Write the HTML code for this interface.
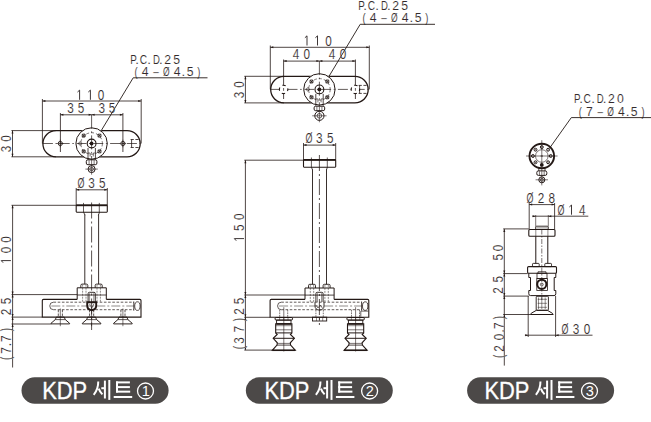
<!DOCTYPE html><html><head><meta charset="utf-8"><style>html,body{margin:0;padding:0;background:#fff;overflow:hidden}svg{display:block;font-family:"Liberation Sans",sans-serif}</style></head><body>
<svg width="651" height="422" viewBox="0 0 651 422">
<rect width="651" height="422" fill="#fff"/>
<text transform="translate(130.17,63.5) scale(0.74,1)" font-size="13.3" fill="#332b2b" stroke="#fff" stroke-width="0.12">P</text>
<text transform="translate(135.35,63.5) scale(1.0,1)" font-size="13.3" fill="#332b2b" stroke="#fff" stroke-width="0.12">.</text>
<text transform="translate(139.69,63.5) scale(0.76,1)" font-size="13.3" fill="#332b2b" stroke="#fff" stroke-width="0.12">C</text>
<text transform="translate(147.35,63.5) scale(1.0,1)" font-size="13.3" fill="#332b2b" stroke="#fff" stroke-width="0.12">.</text>
<text transform="translate(152.98,63.5) scale(0.72,1)" font-size="13.3" fill="#332b2b" stroke="#fff" stroke-width="0.12">D</text>
<text transform="translate(159.05,63.5) scale(1.0,1)" font-size="13.3" fill="#332b2b" stroke="#fff" stroke-width="0.12">.</text>
<text transform="translate(164.2,63.5) scale(0.92,1)" font-size="13.3" fill="#332b2b" stroke="#fff" stroke-width="0.12">2</text>
<text transform="translate(173.21,63.5) scale(0.92,1)" font-size="13.3" fill="#332b2b" stroke="#fff" stroke-width="0.12">5</text>
<text transform="translate(134.59,75.8) scale(0.7,1)" font-size="13.3" fill="#332b2b" stroke="#fff" stroke-width="0.12">(</text>
<text transform="translate(141.84,75.8) scale(0.92,1)" font-size="13.3" fill="#332b2b" stroke="#fff" stroke-width="0.12">4</text>
<text transform="translate(152.34,75.8) scale(1.7,1)" font-size="13.3" fill="#332b2b" stroke="#fff" stroke-width="0.12">-</text>
<text transform="translate(163.09,75.8) scale(0.64,1)" font-size="13.3" fill="#332b2b" stroke="#fff" stroke-width="0.12">Ø</text>
<text transform="translate(173.84,75.8) scale(0.92,1)" font-size="13.3" fill="#332b2b" stroke="#fff" stroke-width="0.12">4</text>
<text transform="translate(181.55,75.8) scale(1.0,1)" font-size="13.3" fill="#332b2b" stroke="#fff" stroke-width="0.12">.</text>
<text transform="translate(186.71,75.8) scale(0.92,1)" font-size="13.3" fill="#332b2b" stroke="#fff" stroke-width="0.12">5</text>
<text transform="translate(197.31,75.8) scale(0.7,1)" font-size="13.3" fill="#332b2b" stroke="#fff" stroke-width="0.12">)</text>
<line x1="133.2" y1="77.8" x2="207.5" y2="77.8" stroke="#231815" stroke-width="0.9"/>
<line x1="133.2" y1="77.8" x2="100.2" y2="132.3" stroke="#231815" stroke-width="0.9"/>
<path transform="translate(79.6,99.8)" d="M0,0 V-9.66 L-2.1,-7.76" fill="none" stroke="#332b2b" stroke-width="0.95"/>
<path transform="translate(90.4,99.8)" d="M0,0 V-9.66 L-2.1,-7.76" fill="none" stroke="#332b2b" stroke-width="0.95"/>
<text transform="translate(97.83,99.8) scale(0.84,1)" font-size="14.0" fill="#332b2b" stroke="#fff" stroke-width="0.12">0</text>
<line x1="42.4" y1="101" x2="141.2" y2="101" stroke="#231815" stroke-width="0.8"/>
<polygon points="42.4,101 45.4,100 45.4,102" fill="#231815"/>
<polygon points="141.2,101 138.2,100 138.2,102" fill="#231815"/>
<line x1="42.4" y1="99" x2="42.4" y2="143.5" stroke="#231815" stroke-width="0.8"/>
<line x1="141.2" y1="99" x2="141.2" y2="143.5" stroke="#231815" stroke-width="0.8"/>
<text transform="translate(67.26,112.9) scale(0.84,1)" font-size="14.0" fill="#332b2b" stroke="#fff" stroke-width="0.12">3</text>
<text transform="translate(77.74,112.9) scale(0.84,1)" font-size="14.0" fill="#332b2b" stroke="#fff" stroke-width="0.12">5</text>
<text transform="translate(98.46,112.9) scale(0.84,1)" font-size="14.0" fill="#332b2b" stroke="#fff" stroke-width="0.12">3</text>
<text transform="translate(108.84,112.9) scale(0.84,1)" font-size="14.0" fill="#332b2b" stroke="#fff" stroke-width="0.12">5</text>
<line x1="60.4" y1="114.8" x2="122.9" y2="114.8" stroke="#231815" stroke-width="0.8"/>
<polygon points="60.4,114.8 63.4,113.8 63.4,115.8" fill="#231815"/>
<polygon points="122.9,114.8 119.9,113.8 119.9,115.8" fill="#231815"/>
<polygon points="91.6,114.8 88.6,113.8 88.6,115.8" fill="#231815"/>
<polygon points="91.6,114.8 94.6,113.8 94.6,115.8" fill="#231815"/>
<line x1="60.4" y1="113" x2="60.4" y2="152" stroke="#231815" stroke-width="0.8"/>
<line x1="122.9" y1="113" x2="122.9" y2="152" stroke="#231815" stroke-width="0.8"/>
<line x1="12.5" y1="130.6" x2="12.5" y2="156.8" stroke="#231815" stroke-width="0.8"/>
<polygon points="12.5,130.6 11.5,133.6 13.5,133.6" fill="#231815"/>
<polygon points="12.5,156.8 11.5,153.8 13.5,153.8" fill="#231815"/>
<line x1="11.4" y1="130.6" x2="56" y2="130.6" stroke="#231815" stroke-width="0.8"/>
<line x1="11.4" y1="156.8" x2="56" y2="156.8" stroke="#231815" stroke-width="0.8"/>
<text transform="translate(11.0,152.14) rotate(-90) scale(0.84,1)" font-size="14.0" fill="#332b2b" stroke="#fff" stroke-width="0.12">3</text>
<text transform="translate(11.0,141.87) rotate(-90) scale(0.84,1)" font-size="14.0" fill="#332b2b" stroke="#fff" stroke-width="0.12">0</text>
<rect x="42.9" y="130.6" width="97.3" height="26.2" rx="13.1" fill="none" stroke="#231815" stroke-width="1.3"/>
<circle cx="60.3" cy="143.5" r="2.1" fill="none" stroke="#231815" stroke-width="0.9"/>
<line x1="57.1" y1="143.5" x2="63.5" y2="143.5" stroke="#231815" stroke-width="0.6"/>
<line x1="60.3" y1="139.7" x2="60.3" y2="147.3" stroke="#231815" stroke-width="0.6"/>
<circle cx="122.9" cy="143.5" r="2.1" fill="none" stroke="#231815" stroke-width="0.9"/>
<line x1="119.7" y1="143.5" x2="126.1" y2="143.5" stroke="#231815" stroke-width="0.6"/>
<line x1="122.9" y1="139.7" x2="122.9" y2="147.3" stroke="#231815" stroke-width="0.6"/>
<line x1="130.6" y1="139.5" x2="138.7" y2="139.5" stroke="#231815" stroke-width="0.8" stroke-dasharray="3.2,1.6"/>
<line x1="130.6" y1="147.5" x2="138.7" y2="147.5" stroke="#231815" stroke-width="0.8" stroke-dasharray="3.2,1.6"/>
<line x1="131.6" y1="139.5" x2="131.6" y2="147.5" stroke="#231815" stroke-width="0.8"/>
<circle cx="91.6" cy="143.5" r="15.7" fill="#fff" stroke="#231815" stroke-width="1.0"/>
<circle cx="91.6" cy="143.5" r="10.8" fill="none" stroke="#231815" stroke-width="0.6" stroke-dasharray="3,2"/>
<rect x="82.25" y="134.15" width="2.9" height="2.9" rx="0.5" fill="none" stroke="#231815" stroke-width="0.9"/>
<line x1="82.25" y1="134.15" x2="85.15" y2="137.05" stroke="#231815" stroke-width="0.7"/>
<line x1="82.25" y1="137.05" x2="85.15" y2="134.15" stroke="#231815" stroke-width="0.7"/>
<rect x="82.25" y="149.95" width="2.9" height="2.9" rx="0.5" fill="none" stroke="#231815" stroke-width="0.9"/>
<line x1="82.25" y1="149.95" x2="85.15" y2="152.85" stroke="#231815" stroke-width="0.7"/>
<line x1="82.25" y1="152.85" x2="85.15" y2="149.95" stroke="#231815" stroke-width="0.7"/>
<rect x="98.05" y="134.15" width="2.9" height="2.9" rx="0.5" fill="none" stroke="#231815" stroke-width="0.9"/>
<line x1="98.05" y1="134.15" x2="100.95" y2="137.05" stroke="#231815" stroke-width="0.7"/>
<line x1="98.05" y1="137.05" x2="100.95" y2="134.15" stroke="#231815" stroke-width="0.7"/>
<rect x="98.05" y="149.95" width="2.9" height="2.9" rx="0.5" fill="none" stroke="#231815" stroke-width="0.9"/>
<line x1="98.05" y1="149.95" x2="100.95" y2="152.85" stroke="#231815" stroke-width="0.7"/>
<line x1="98.05" y1="152.85" x2="100.95" y2="149.95" stroke="#231815" stroke-width="0.7"/>
<circle cx="91.6" cy="143.5" r="4.4" fill="#fff" stroke="#231815" stroke-width="1.1"/>
<circle cx="91.6" cy="143.5" r="1.9" fill="#231815" stroke="#231815" stroke-width="0"/>
<polygon points="78.1,143.5 80.1,141.7 82.1,143.5 80.1,145.3" fill="none" stroke="#231815" stroke-width="0.7"/>
<line x1="88" y1="148" x2="88" y2="159.8" stroke="#231815" stroke-width="0.8"/>
<line x1="95.4" y1="148" x2="95.4" y2="159.8" stroke="#231815" stroke-width="0.8"/>
<path d="M88,153 H90.1 V156.5 M95.4,153 H93.3 V156.5" fill="none" stroke="#231815" stroke-width="0.6"/>
<line x1="42.9" y1="143.5" x2="140.2" y2="143.5" stroke="#231815" stroke-width="0.7" stroke-dasharray="10,2.6,1.6,2.6"/>
<line x1="91.6" y1="114.8" x2="91.6" y2="160.2" stroke="#231815" stroke-width="0.7" stroke-dasharray="14,2.5,1.6,2.5"/>
<rect x="86.3" y="159.8" width="10.6" height="4.9" rx="1.6" fill="none" stroke="#231815" stroke-width="1.0"/>
<line x1="89.08" y1="160.2" x2="89.08" y2="164.3" stroke="#231815" stroke-width="0.6"/>
<line x1="91.6" y1="160.2" x2="91.6" y2="164.3" stroke="#231815" stroke-width="0.6"/>
<line x1="94.12" y1="160.2" x2="94.12" y2="164.3" stroke="#231815" stroke-width="0.6"/>
<circle cx="91.6" cy="169.1" r="3.5" fill="none" stroke="#231815" stroke-width="1.0"/>
<circle cx="91.6" cy="169.1" r="1.75" fill="none" stroke="#231815" stroke-width="0.7"/>
<line x1="85.4" y1="169.1" x2="97.8" y2="169.1" stroke="#231815" stroke-width="0.6"/>
<line x1="91.6" y1="164.76" x2="91.6" y2="174.68" stroke="#231815" stroke-width="0.6"/>
<text transform="translate(77.51,188.1) scale(0.64,1)" font-size="14.0" fill="#332b2b" stroke="#fff" stroke-width="0.12">Ø</text>
<text transform="translate(88.36,188.1) scale(0.84,1)" font-size="14.0" fill="#332b2b" stroke="#fff" stroke-width="0.12">3</text>
<text transform="translate(99.04,188.1) scale(0.84,1)" font-size="14.0" fill="#332b2b" stroke="#fff" stroke-width="0.12">5</text>
<line x1="76.2" y1="189.8" x2="107.3" y2="189.8" stroke="#231815" stroke-width="0.8"/>
<polygon points="76.2,189.8 79.2,188.8 79.2,190.8" fill="#231815"/>
<polygon points="107.3,189.8 104.3,188.8 104.3,190.8" fill="#231815"/>
<line x1="76.2" y1="188" x2="76.2" y2="205.3" stroke="#231815" stroke-width="0.8"/>
<line x1="107.3" y1="188" x2="107.3" y2="205.3" stroke="#231815" stroke-width="0.8"/>
<rect x="76.2" y="205.3" width="31.1" height="6.9" rx="0.6" fill="none" stroke="#231815" stroke-width="1.1"/>
<line x1="76.2" y1="205.3" x2="107.3" y2="205.3" stroke="#231815" stroke-width="1.8"/>
<line x1="83.5" y1="202.9" x2="83.5" y2="212.2" stroke="#231815" stroke-width="0.7"/>
<line x1="99.3" y1="202.9" x2="99.3" y2="212.2" stroke="#231815" stroke-width="0.7"/>
<path d="M83.6,212.2 L85,215.2 M99.6,212.2 L98.3,215.2" fill="none" stroke="#231815" stroke-width="0.8"/>
<line x1="84.8" y1="214.5" x2="84.8" y2="284.1" stroke="#231815" stroke-width="0.9"/>
<line x1="98.6" y1="214.5" x2="98.6" y2="284.1" stroke="#231815" stroke-width="0.9"/>
<path d="M80.8,287.8 V285.40000000000003 Q80.8,284.1 82.1,284.1 H86.5 Q87.8,284.1 87.8,285.40000000000003 V287.8" fill="none" stroke="#231815" stroke-width="0.9"/>
<line x1="82.6" y1="284.7" x2="82.6" y2="301.9" stroke="#231815" stroke-width="0.5" stroke-dasharray="2,1"/>
<line x1="86" y1="284.7" x2="86" y2="301.9" stroke="#231815" stroke-width="0.5" stroke-dasharray="2,1"/>
<path d="M95.2,287.8 V285.40000000000003 Q95.2,284.1 96.5,284.1 H100.9 Q102.2,284.1 102.2,285.40000000000003 V287.8" fill="none" stroke="#231815" stroke-width="0.9"/>
<line x1="97" y1="284.7" x2="97" y2="301.9" stroke="#231815" stroke-width="0.5" stroke-dasharray="2,1"/>
<line x1="100.4" y1="284.7" x2="100.4" y2="301.9" stroke="#231815" stroke-width="0.5" stroke-dasharray="2,1"/>
<path d="M77.2,299.4 V287.8 H106.3 V299.4" fill="none" stroke="#231815" stroke-width="1.0"/>
<line x1="77.2" y1="295" x2="106.3" y2="295" stroke="#231815" stroke-width="0.8"/>
<path d="M77.2,299.4 H43.5 Q42.3,299.4 42.3,300.59999999999997 V317.1 H141 V300.59999999999997 Q141,299.4 139.8,299.4 H106.3" fill="none" stroke="#231815" stroke-width="1.1"/>
<line x1="53.5" y1="302.2" x2="134" y2="302.2" stroke="#231815" stroke-width="0.7" stroke-dasharray="2.6,1.6"/>
<line x1="53.5" y1="309.7" x2="134" y2="309.7" stroke="#231815" stroke-width="0.7" stroke-dasharray="2.6,1.6"/>
<path d="M53.5,302.2 A3.75,3.75 0 0 0 53.5,309.7" fill="none" stroke="#231815" stroke-width="0.7"/>
<line x1="51.3" y1="306" x2="134" y2="306" stroke="#231815" stroke-width="0.5" stroke-dasharray="9,2,2,2"/>
<ellipse cx="137.4" cy="306.1" rx="2.7" ry="4.3" fill="none" stroke="#231815" stroke-width="0.8"/>
<line x1="133.8" y1="301.6" x2="133.8" y2="310.6" stroke="#231815" stroke-width="0.8"/>
<path d="M88.1,302 V293.6 Q88.1,292.3 89.4,292.3 H94 Q95.3,292.3 95.3,293.6 V302" fill="none" stroke="#231815" stroke-width="0.9"/>
<line x1="89.6" y1="293.2" x2="89.6" y2="302" stroke="#231815" stroke-width="0.5"/>
<line x1="93.8" y1="293.2" x2="93.8" y2="302" stroke="#231815" stroke-width="0.5"/>
<path d="M87.2,302.2 H96.2 V305.6 Q96.2,309.8 91.7,310.2 Q87.2,309.8 87.2,305.6 Z" fill="none" stroke="#231815" stroke-width="1.9"/>
<path d="M89.6,304 L91.7,308.2 L93.8,304" fill="none" stroke="#231815" stroke-width="0.6"/>
<line x1="91.6" y1="202.5" x2="91.6" y2="330" stroke="#231815" stroke-width="0.75" stroke-dasharray="16,3,2,3"/>
<line x1="58.3" y1="309.9" x2="58.3" y2="317.1" stroke="#231815" stroke-width="0.75" stroke-dasharray="2.4,1.2"/>
<line x1="62.4" y1="309.9" x2="62.4" y2="317.1" stroke="#231815" stroke-width="0.75" stroke-dasharray="2.4,1.2"/>
<polygon points="56.4,317.1 64.2,317.1 65.3,319.6 69.6,323.3 69.6,323.9 51,323.9 51,323.3 55.3,319.6" fill="none" stroke="#231815" stroke-width="0.95"/>
<line x1="55.3" y1="319.6" x2="65.3" y2="319.6" stroke="#231815" stroke-width="0.7"/>
<line x1="60.3" y1="308.5" x2="60.3" y2="326.2" stroke="#231815" stroke-width="0.6"/>
<line x1="89.6" y1="309.9" x2="89.6" y2="317.1" stroke="#231815" stroke-width="0.75" stroke-dasharray="2.4,1.2"/>
<line x1="93.7" y1="309.9" x2="93.7" y2="317.1" stroke="#231815" stroke-width="0.75" stroke-dasharray="2.4,1.2"/>
<polygon points="87.7,317.1 95.5,317.1 96.6,319.6 100.9,323.3 100.9,323.9 82.3,323.9 82.3,323.3 86.6,319.6" fill="none" stroke="#231815" stroke-width="0.95"/>
<line x1="86.6" y1="319.6" x2="96.6" y2="319.6" stroke="#231815" stroke-width="0.7"/>
<line x1="91.6" y1="308.5" x2="91.6" y2="326.2" stroke="#231815" stroke-width="0.6"/>
<line x1="120.9" y1="309.9" x2="120.9" y2="317.1" stroke="#231815" stroke-width="0.75" stroke-dasharray="2.4,1.2"/>
<line x1="125" y1="309.9" x2="125" y2="317.1" stroke="#231815" stroke-width="0.75" stroke-dasharray="2.4,1.2"/>
<polygon points="119,317.1 126.8,317.1 127.9,319.6 132.2,323.3 132.2,323.9 113.6,323.9 113.6,323.3 117.9,319.6" fill="none" stroke="#231815" stroke-width="0.95"/>
<line x1="117.9" y1="319.6" x2="127.9" y2="319.6" stroke="#231815" stroke-width="0.7"/>
<line x1="122.9" y1="308.5" x2="122.9" y2="326.2" stroke="#231815" stroke-width="0.6"/>
<line x1="12.6" y1="205.3" x2="12.6" y2="367.5" stroke="#231815" stroke-width="0.8"/>
<polygon points="12.6,205.3 11.6,208.3 13.6,208.3" fill="#231815"/>
<line x1="11.5" y1="205.3" x2="76.2" y2="205.3" stroke="#231815" stroke-width="0.8"/>
<line x1="11.5" y1="294.6" x2="77.2" y2="294.6" stroke="#231815" stroke-width="0.8"/>
<polygon points="12.6,294.6 11.6,291.6 13.6,291.6" fill="#231815"/>
<polygon points="12.6,294.6 11.6,297.6 13.6,297.6" fill="#231815"/>
<line x1="11.5" y1="317.1" x2="42.3" y2="317.1" stroke="#231815" stroke-width="0.8"/>
<polygon points="12.6,317.1 11.6,314.1 13.6,314.1" fill="#231815"/>
<polygon points="12.6,317.1 11.6,320.1 13.6,320.1" fill="#231815"/>
<line x1="11.5" y1="324" x2="51.1" y2="324" stroke="#231815" stroke-width="0.8"/>
<polygon points="12.6,324 11.6,327 13.6,327" fill="#231815"/>
<path transform="translate(10.9,260.6) rotate(-90)" d="M0,0 V-9.66 L-2.1,-7.76" fill="none" stroke="#332b2b" stroke-width="0.95"/>
<text transform="translate(10.9,253.27) rotate(-90) scale(0.84,1)" font-size="14.0" fill="#332b2b" stroke="#fff" stroke-width="0.12">0</text>
<text transform="translate(10.9,242.67) rotate(-90) scale(0.84,1)" font-size="14.0" fill="#332b2b" stroke="#fff" stroke-width="0.12">0</text>
<text transform="translate(11.0,315.17) rotate(-90) scale(0.84,1)" font-size="14.0" fill="#332b2b" stroke="#fff" stroke-width="0.12">2</text>
<text transform="translate(11.0,304.36) rotate(-90) scale(0.84,1)" font-size="14.0" fill="#332b2b" stroke="#fff" stroke-width="0.12">5</text>
<text transform="translate(11.0,360.11) rotate(-90) scale(0.7,1)" font-size="14.0" fill="#332b2b" stroke="#fff" stroke-width="0.12">(</text>
<text transform="translate(11.0,353.68) rotate(-90) scale(0.84,1)" font-size="14.0" fill="#332b2b" stroke="#fff" stroke-width="0.12">7</text>
<text transform="translate(11.0,346.44) rotate(-90) scale(1.0,1)" font-size="14.0" fill="#332b2b" stroke="#fff" stroke-width="0.12">.</text>
<text transform="translate(11.0,341.98) rotate(-90) scale(0.84,1)" font-size="14.0" fill="#332b2b" stroke="#fff" stroke-width="0.12">7</text>
<text transform="translate(11.0,331.36) rotate(-90) scale(0.7,1)" font-size="14.0" fill="#332b2b" stroke="#fff" stroke-width="0.12">)</text>
<text transform="translate(358.17,9.7) scale(0.74,1)" font-size="13.3" fill="#332b2b" stroke="#fff" stroke-width="0.12">P</text>
<text transform="translate(363.35,9.7) scale(1.0,1)" font-size="13.3" fill="#332b2b" stroke="#fff" stroke-width="0.12">.</text>
<text transform="translate(367.69,9.7) scale(0.76,1)" font-size="13.3" fill="#332b2b" stroke="#fff" stroke-width="0.12">C</text>
<text transform="translate(375.35,9.7) scale(1.0,1)" font-size="13.3" fill="#332b2b" stroke="#fff" stroke-width="0.12">.</text>
<text transform="translate(380.98,9.7) scale(0.72,1)" font-size="13.3" fill="#332b2b" stroke="#fff" stroke-width="0.12">D</text>
<text transform="translate(387.05,9.7) scale(1.0,1)" font-size="13.3" fill="#332b2b" stroke="#fff" stroke-width="0.12">.</text>
<text transform="translate(392.2,9.7) scale(0.92,1)" font-size="13.3" fill="#332b2b" stroke="#fff" stroke-width="0.12">2</text>
<text transform="translate(401.21,9.7) scale(0.92,1)" font-size="13.3" fill="#332b2b" stroke="#fff" stroke-width="0.12">5</text>
<text transform="translate(362.59,21.9) scale(0.7,1)" font-size="13.3" fill="#332b2b" stroke="#fff" stroke-width="0.12">(</text>
<text transform="translate(369.84,21.9) scale(0.92,1)" font-size="13.3" fill="#332b2b" stroke="#fff" stroke-width="0.12">4</text>
<text transform="translate(380.34,21.9) scale(1.7,1)" font-size="13.3" fill="#332b2b" stroke="#fff" stroke-width="0.12">-</text>
<text transform="translate(391.09,21.9) scale(0.64,1)" font-size="13.3" fill="#332b2b" stroke="#fff" stroke-width="0.12">Ø</text>
<text transform="translate(401.84,21.9) scale(0.92,1)" font-size="13.3" fill="#332b2b" stroke="#fff" stroke-width="0.12">4</text>
<text transform="translate(409.55,21.9) scale(1.0,1)" font-size="13.3" fill="#332b2b" stroke="#fff" stroke-width="0.12">.</text>
<text transform="translate(414.71,21.9) scale(0.92,1)" font-size="13.3" fill="#332b2b" stroke="#fff" stroke-width="0.12">5</text>
<text transform="translate(425.31,21.9) scale(0.7,1)" font-size="13.3" fill="#332b2b" stroke="#fff" stroke-width="0.12">)</text>
<line x1="360.2" y1="24.3" x2="435" y2="24.3" stroke="#231815" stroke-width="0.9"/>
<line x1="360.2" y1="24.3" x2="327.5" y2="78.8" stroke="#231815" stroke-width="0.9"/>
<path transform="translate(307,45.5)" d="M0,0 V-9.66 L-2.1,-7.76" fill="none" stroke="#332b2b" stroke-width="0.95"/>
<path transform="translate(317.5,45.5)" d="M0,0 V-9.66 L-2.1,-7.76" fill="none" stroke="#332b2b" stroke-width="0.95"/>
<text transform="translate(325.23,45.5) scale(0.84,1)" font-size="14.0" fill="#332b2b" stroke="#fff" stroke-width="0.12">0</text>
<line x1="270.3" y1="47.3" x2="369.3" y2="47.3" stroke="#231815" stroke-width="0.8"/>
<polygon points="270.3,47.3 273.3,46.3 273.3,48.3" fill="#231815"/>
<polygon points="369.3,47.3 366.3,46.3 366.3,48.3" fill="#231815"/>
<line x1="270.3" y1="45.5" x2="270.3" y2="89.4" stroke="#231815" stroke-width="0.8"/>
<line x1="369.3" y1="45.5" x2="369.3" y2="89.4" stroke="#231815" stroke-width="0.8"/>
<text transform="translate(292.77,59.0) scale(0.84,1)" font-size="14.0" fill="#332b2b" stroke="#fff" stroke-width="0.12">4</text>
<text transform="translate(303.53,59.0) scale(0.84,1)" font-size="14.0" fill="#332b2b" stroke="#fff" stroke-width="0.12">0</text>
<text transform="translate(328.67,59.0) scale(0.84,1)" font-size="14.0" fill="#332b2b" stroke="#fff" stroke-width="0.12">4</text>
<text transform="translate(339.73,59.0) scale(0.84,1)" font-size="14.0" fill="#332b2b" stroke="#fff" stroke-width="0.12">0</text>
<line x1="283.6" y1="61.1" x2="355.4" y2="61.1" stroke="#231815" stroke-width="0.8"/>
<polygon points="283.6,61.1 286.6,60.1 286.6,62.1" fill="#231815"/>
<polygon points="355.4,61.1 352.4,60.1 352.4,62.1" fill="#231815"/>
<polygon points="319.4,61.1 316.4,60.1 316.4,62.1" fill="#231815"/>
<polygon points="319.4,61.1 322.4,60.1 322.4,62.1" fill="#231815"/>
<line x1="283.6" y1="59.5" x2="283.6" y2="99" stroke="#231815" stroke-width="0.8"/>
<line x1="355.4" y1="59.5" x2="355.4" y2="99" stroke="#231815" stroke-width="0.8"/>
<line x1="245.4" y1="76.3" x2="245.4" y2="102.9" stroke="#231815" stroke-width="0.8"/>
<polygon points="245.4,76.3 244.4,79.3 246.4,79.3" fill="#231815"/>
<polygon points="245.4,102.9 244.4,99.9 246.4,99.9" fill="#231815"/>
<line x1="244.3" y1="76.3" x2="284" y2="76.3" stroke="#231815" stroke-width="0.8"/>
<line x1="244.3" y1="102.9" x2="284" y2="102.9" stroke="#231815" stroke-width="0.8"/>
<text transform="translate(243.7,98.24) rotate(-90) scale(0.84,1)" font-size="14.0" fill="#332b2b" stroke="#fff" stroke-width="0.12">3</text>
<text transform="translate(243.7,87.67) rotate(-90) scale(0.84,1)" font-size="14.0" fill="#332b2b" stroke="#fff" stroke-width="0.12">0</text>
<rect x="270.7" y="76.3" width="97.5" height="26.6" rx="13.3" fill="none" stroke="#231815" stroke-width="1.3"/>
<line x1="358.6" y1="85.4" x2="366.7" y2="85.4" stroke="#231815" stroke-width="0.8" stroke-dasharray="3.2,1.6"/>
<line x1="358.6" y1="93.4" x2="366.7" y2="93.4" stroke="#231815" stroke-width="0.8" stroke-dasharray="3.2,1.6"/>
<line x1="359.6" y1="85.4" x2="359.6" y2="93.4" stroke="#231815" stroke-width="0.8"/>
<circle cx="319.4" cy="89.4" r="15.7" fill="#fff" stroke="#231815" stroke-width="1.0"/>
<circle cx="319.4" cy="89.4" r="10.8" fill="none" stroke="#231815" stroke-width="0.6" stroke-dasharray="3,2"/>
<rect x="310.05" y="80.05" width="2.9" height="2.9" rx="0.5" fill="none" stroke="#231815" stroke-width="0.9"/>
<line x1="310.05" y1="80.05" x2="312.95" y2="82.95" stroke="#231815" stroke-width="0.7"/>
<line x1="310.05" y1="82.95" x2="312.95" y2="80.05" stroke="#231815" stroke-width="0.7"/>
<rect x="310.05" y="95.85" width="2.9" height="2.9" rx="0.5" fill="none" stroke="#231815" stroke-width="0.9"/>
<line x1="310.05" y1="95.85" x2="312.95" y2="98.75" stroke="#231815" stroke-width="0.7"/>
<line x1="310.05" y1="98.75" x2="312.95" y2="95.85" stroke="#231815" stroke-width="0.7"/>
<rect x="325.85" y="80.05" width="2.9" height="2.9" rx="0.5" fill="none" stroke="#231815" stroke-width="0.9"/>
<line x1="325.85" y1="80.05" x2="328.75" y2="82.95" stroke="#231815" stroke-width="0.7"/>
<line x1="325.85" y1="82.95" x2="328.75" y2="80.05" stroke="#231815" stroke-width="0.7"/>
<rect x="325.85" y="95.85" width="2.9" height="2.9" rx="0.5" fill="none" stroke="#231815" stroke-width="0.9"/>
<line x1="325.85" y1="95.85" x2="328.75" y2="98.75" stroke="#231815" stroke-width="0.7"/>
<line x1="325.85" y1="98.75" x2="328.75" y2="95.85" stroke="#231815" stroke-width="0.7"/>
<circle cx="319.4" cy="89.4" r="4.4" fill="#fff" stroke="#231815" stroke-width="1.1"/>
<circle cx="319.4" cy="89.4" r="1.9" fill="#231815" stroke="#231815" stroke-width="0"/>
<polygon points="305.9,89.4 307.9,87.6 309.9,89.4 307.9,91.2" fill="none" stroke="#231815" stroke-width="0.7"/>
<line x1="315.8" y1="93.9" x2="315.8" y2="105.7" stroke="#231815" stroke-width="0.8"/>
<line x1="323.2" y1="93.9" x2="323.2" y2="105.7" stroke="#231815" stroke-width="0.8"/>
<path d="M315.8,98.9 H317.9 V102.4 M323.2,98.9 H321.1 V102.4" fill="none" stroke="#231815" stroke-width="0.6"/>
<line x1="270.7" y1="89.4" x2="368.2" y2="89.4" stroke="#231815" stroke-width="0.7" stroke-dasharray="10,2.6,1.6,2.6"/>
<circle cx="283.6" cy="89.4" r="4.2" fill="#fff" stroke="#231815" stroke-width="1.1" stroke-dasharray="3.4,3.2" stroke-dashoffset="1.7"/>
<line x1="283.6" y1="88" x2="283.6" y2="90.8" stroke="#231815" stroke-width="0.7"/>
<circle cx="355.4" cy="89.4" r="4.2" fill="#fff" stroke="#231815" stroke-width="1.1" stroke-dasharray="3.4,3.2" stroke-dashoffset="1.7"/>
<line x1="355.4" y1="88" x2="355.4" y2="90.8" stroke="#231815" stroke-width="0.7"/>
<line x1="319.4" y1="61.1" x2="319.4" y2="106.1" stroke="#231815" stroke-width="0.7" stroke-dasharray="14,2.5,1.6,2.5"/>
<rect x="314.1" y="106.2" width="10.6" height="4.5" rx="1.6" fill="none" stroke="#231815" stroke-width="1.0"/>
<line x1="316.88" y1="106.6" x2="316.88" y2="110.3" stroke="#231815" stroke-width="0.6"/>
<line x1="319.4" y1="106.6" x2="319.4" y2="110.3" stroke="#231815" stroke-width="0.6"/>
<line x1="321.92" y1="106.6" x2="321.92" y2="110.3" stroke="#231815" stroke-width="0.6"/>
<circle cx="319.4" cy="115.8" r="4.6" fill="none" stroke="#231815" stroke-width="1.0"/>
<circle cx="319.4" cy="115.8" r="2.3" fill="none" stroke="#231815" stroke-width="0.7"/>
<line x1="312.2" y1="115.8" x2="326.6" y2="115.8" stroke="#231815" stroke-width="0.6"/>
<line x1="319.4" y1="110.76" x2="319.4" y2="122.28" stroke="#231815" stroke-width="0.6"/>
<text transform="translate(305.51,143.2) scale(0.64,1)" font-size="14.0" fill="#332b2b" stroke="#fff" stroke-width="0.12">Ø</text>
<text transform="translate(316.06,143.2) scale(0.84,1)" font-size="14.0" fill="#332b2b" stroke="#fff" stroke-width="0.12">3</text>
<text transform="translate(326.94,143.2) scale(0.84,1)" font-size="14.0" fill="#332b2b" stroke="#fff" stroke-width="0.12">5</text>
<line x1="303.5" y1="145.1" x2="335.7" y2="145.1" stroke="#231815" stroke-width="0.8"/>
<polygon points="303.5,145.1 306.5,144.1 306.5,146.1" fill="#231815"/>
<polygon points="335.7,145.1 332.7,144.1 332.7,146.1" fill="#231815"/>
<line x1="303.5" y1="143" x2="303.5" y2="159.9" stroke="#231815" stroke-width="0.8"/>
<line x1="335.7" y1="143" x2="335.7" y2="159.9" stroke="#231815" stroke-width="0.8"/>
<rect x="303.5" y="159.9" width="32.2" height="7.3" rx="0.6" fill="none" stroke="#231815" stroke-width="1.1"/>
<line x1="303.5" y1="159.9" x2="335.7" y2="159.9" stroke="#231815" stroke-width="1.8"/>
<line x1="311.4" y1="157.5" x2="311.4" y2="167.2" stroke="#231815" stroke-width="0.7"/>
<line x1="327.3" y1="157.5" x2="327.3" y2="167.2" stroke="#231815" stroke-width="0.7"/>
<path d="M311.4,167.2 L312.6,170 M327.4,167.2 L326.4,170" fill="none" stroke="#231815" stroke-width="0.8"/>
<line x1="312.5" y1="169.5" x2="312.5" y2="284.3" stroke="#231815" stroke-width="0.9"/>
<line x1="326.5" y1="169.5" x2="326.5" y2="284.3" stroke="#231815" stroke-width="0.9"/>
<path d="M308.5,288.0 V285.6 Q308.5,284.3 309.8,284.3 H314.2 Q315.5,284.3 315.5,285.6 V288.0" fill="none" stroke="#231815" stroke-width="0.9"/>
<line x1="310.3" y1="284.9" x2="310.3" y2="301.9" stroke="#231815" stroke-width="0.5" stroke-dasharray="2,1"/>
<line x1="313.7" y1="284.9" x2="313.7" y2="301.9" stroke="#231815" stroke-width="0.5" stroke-dasharray="2,1"/>
<path d="M323.1,288.0 V285.6 Q323.1,284.3 324.4,284.3 H328.8 Q330.1,284.3 330.1,285.6 V288.0" fill="none" stroke="#231815" stroke-width="0.9"/>
<line x1="324.9" y1="284.9" x2="324.9" y2="301.9" stroke="#231815" stroke-width="0.5" stroke-dasharray="2,1"/>
<line x1="328.3" y1="284.9" x2="328.3" y2="301.9" stroke="#231815" stroke-width="0.5" stroke-dasharray="2,1"/>
<path d="M305,299.4 V288.0 H334.1 V299.4" fill="none" stroke="#231815" stroke-width="1.0"/>
<line x1="305" y1="295.1" x2="334.1" y2="295.1" stroke="#231815" stroke-width="0.8"/>
<path d="M305,299.4 H271.3 Q270.1,299.4 270.1,300.59999999999997 V317.2 H368.8 V300.59999999999997 Q368.8,299.4 367.6,299.4 H334.1" fill="none" stroke="#231815" stroke-width="1.1"/>
<line x1="281.3" y1="302.2" x2="361.8" y2="302.2" stroke="#231815" stroke-width="0.7" stroke-dasharray="2.6,1.6"/>
<line x1="281.3" y1="309.7" x2="361.8" y2="309.7" stroke="#231815" stroke-width="0.7" stroke-dasharray="2.6,1.6"/>
<path d="M281.3,302.2 A3.75,3.75 0 0 0 281.3,309.7" fill="none" stroke="#231815" stroke-width="0.7"/>
<line x1="279.1" y1="306" x2="361.8" y2="306" stroke="#231815" stroke-width="0.5" stroke-dasharray="9,2,2,2"/>
<ellipse cx="365.2" cy="306.1" rx="2.7" ry="4.3" fill="none" stroke="#231815" stroke-width="0.8"/>
<line x1="361.6" y1="301.6" x2="361.6" y2="310.6" stroke="#231815" stroke-width="0.8"/>
<path d="M315.9,302 V293.6 Q315.9,292.3 317.2,292.3 H321.8 Q323.1,292.3 323.1,293.6 V302" fill="none" stroke="#231815" stroke-width="0.9"/>
<line x1="317.4" y1="293.2" x2="317.4" y2="302" stroke="#231815" stroke-width="0.5"/>
<line x1="321.6" y1="293.2" x2="321.6" y2="302" stroke="#231815" stroke-width="0.5"/>
<path d="M315,302.2 V306 Q315,309.6 319.5,310.2 Q324,309.6 324,306 V302.2" fill="none" stroke="#231815" stroke-width="0.9"/>
<path d="M315.8,305 L318,308 L320.2,305 L322.4,308" fill="none" stroke="#231815" stroke-width="0.6"/>
<line x1="315.9" y1="310" x2="315.9" y2="317.2" stroke="#231815" stroke-width="0.6" stroke-dasharray="1.6,1"/>
<line x1="323.3" y1="310" x2="323.3" y2="317.2" stroke="#231815" stroke-width="0.6" stroke-dasharray="1.6,1"/>
<rect x="312.5" y="317.2" width="14.2" height="3.8" rx="0" fill="none" stroke="#231815" stroke-width="0.9"/>
<path d="M360.8,316.7 V311.1 H368.2" fill="none" stroke="#231815" stroke-width="0.7"/>
<line x1="316.5" y1="317.2" x2="316.5" y2="321" stroke="#231815" stroke-width="0.5"/>
<line x1="319.5" y1="317.2" x2="319.5" y2="321" stroke="#231815" stroke-width="0.5"/>
<line x1="322.7" y1="317.2" x2="322.7" y2="321" stroke="#231815" stroke-width="0.5"/>
<line x1="319.4" y1="155" x2="319.4" y2="325" stroke="#231815" stroke-width="0.75" stroke-dasharray="16,3,2,3"/>
<line x1="279.7" y1="309.8" x2="279.7" y2="317.2" stroke="#231815" stroke-width="0.6" stroke-dasharray="1.8,0.8"/>
<line x1="287.7" y1="309.8" x2="287.7" y2="317.2" stroke="#231815" stroke-width="0.6" stroke-dasharray="1.8,0.8"/>
<rect x="275" y="317.5" width="17.6" height="2.6" rx="1.3" fill="none" stroke="#231815" stroke-width="1.0"/>
<line x1="279.6" y1="317.6" x2="279.6" y2="320" stroke="#231815" stroke-width="0.5"/>
<line x1="283.8" y1="317.6" x2="283.8" y2="320" stroke="#231815" stroke-width="0.5"/>
<line x1="288" y1="317.6" x2="288" y2="320" stroke="#231815" stroke-width="0.5"/>
<rect x="276.6" y="320.1" width="14.4" height="3.8" rx="0" fill="none" stroke="#231815" stroke-width="0.9"/>
<line x1="276.6" y1="323.9" x2="291" y2="323.9" stroke="#231815" stroke-width="1.2"/>
<polygon points="275.7,323.9 275.7,332.9 277.2,334.4 273.2,338.3 277.3,342.8 277,345.1 272.3,350.3 295.3,350.3 290.6,345.1 290.3,342.8 294.4,338.3 290.4,334.4 291.9,332.9 291.9,323.9" fill="none" stroke="#231815" stroke-width="1.1"/>
<line x1="272.3" y1="350.3" x2="295.3" y2="350.3" stroke="#231815" stroke-width="1.5"/>
<line x1="275.7" y1="325.7" x2="291.9" y2="325.7" stroke="#231815" stroke-width="0.5"/>
<line x1="275.7" y1="329.8" x2="291.9" y2="329.8" stroke="#231815" stroke-width="0.6"/>
<line x1="275.7" y1="332.9" x2="291.9" y2="332.9" stroke="#231815" stroke-width="1.0"/>
<line x1="273.2" y1="338.3" x2="294.4" y2="338.3" stroke="#231815" stroke-width="1.0"/>
<line x1="277.2" y1="343.4" x2="290.4" y2="343.4" stroke="#231815" stroke-width="0.6"/>
<line x1="277" y1="345.1" x2="290.6" y2="345.1" stroke="#231815" stroke-width="0.8"/>
<line x1="283.8" y1="307.2" x2="283.8" y2="351.5" stroke="#231815" stroke-width="0.6"/>
<line x1="351.5" y1="309.8" x2="351.5" y2="317.2" stroke="#231815" stroke-width="0.6" stroke-dasharray="1.8,0.8"/>
<line x1="359.5" y1="309.8" x2="359.5" y2="317.2" stroke="#231815" stroke-width="0.6" stroke-dasharray="1.8,0.8"/>
<rect x="346.8" y="317.5" width="17.6" height="2.6" rx="1.3" fill="none" stroke="#231815" stroke-width="1.0"/>
<line x1="351.4" y1="317.6" x2="351.4" y2="320" stroke="#231815" stroke-width="0.5"/>
<line x1="355.6" y1="317.6" x2="355.6" y2="320" stroke="#231815" stroke-width="0.5"/>
<line x1="359.8" y1="317.6" x2="359.8" y2="320" stroke="#231815" stroke-width="0.5"/>
<rect x="348.4" y="320.1" width="14.4" height="3.8" rx="0" fill="none" stroke="#231815" stroke-width="0.9"/>
<line x1="348.4" y1="323.9" x2="362.8" y2="323.9" stroke="#231815" stroke-width="1.2"/>
<polygon points="347.5,323.9 347.5,332.9 349,334.4 345,338.3 349.1,342.8 348.8,345.1 344.1,350.3 367.1,350.3 362.4,345.1 362.1,342.8 366.2,338.3 362.2,334.4 363.7,332.9 363.7,323.9" fill="none" stroke="#231815" stroke-width="1.1"/>
<line x1="344.1" y1="350.3" x2="367.1" y2="350.3" stroke="#231815" stroke-width="1.5"/>
<line x1="347.5" y1="325.7" x2="363.7" y2="325.7" stroke="#231815" stroke-width="0.5"/>
<line x1="347.5" y1="329.8" x2="363.7" y2="329.8" stroke="#231815" stroke-width="0.6"/>
<line x1="347.5" y1="332.9" x2="363.7" y2="332.9" stroke="#231815" stroke-width="1.0"/>
<line x1="345" y1="338.3" x2="366.2" y2="338.3" stroke="#231815" stroke-width="1.0"/>
<line x1="349" y1="343.4" x2="362.2" y2="343.4" stroke="#231815" stroke-width="0.6"/>
<line x1="348.8" y1="345.1" x2="362.4" y2="345.1" stroke="#231815" stroke-width="0.8"/>
<line x1="355.6" y1="307.2" x2="355.6" y2="351.5" stroke="#231815" stroke-width="0.6"/>
<line x1="245.4" y1="160.2" x2="245.4" y2="350.1" stroke="#231815" stroke-width="0.8"/>
<polygon points="245.4,160.2 244.4,163.2 246.4,163.2" fill="#231815"/>
<line x1="244.3" y1="160.2" x2="303.5" y2="160.2" stroke="#231815" stroke-width="0.8"/>
<line x1="244.3" y1="295" x2="305.1" y2="295" stroke="#231815" stroke-width="0.8"/>
<polygon points="245.4,295 244.4,292 246.4,292" fill="#231815"/>
<polygon points="245.4,295 244.4,298 246.4,298" fill="#231815"/>
<line x1="244.3" y1="317.3" x2="270.1" y2="317.3" stroke="#231815" stroke-width="0.8"/>
<polygon points="245.4,317.3 244.4,314.3 246.4,314.3" fill="#231815"/>
<polygon points="245.4,317.3 244.4,320.3 246.4,320.3" fill="#231815"/>
<line x1="244.3" y1="350.1" x2="272.5" y2="350.1" stroke="#231815" stroke-width="0.8"/>
<polygon points="245.4,350.1 244.4,347.1 246.4,347.1" fill="#231815"/>
<path transform="translate(244.0,238.6) rotate(-90)" d="M0,0 V-9.66 L-2.1,-7.76" fill="none" stroke="#332b2b" stroke-width="0.95"/>
<text transform="translate(244.0,230.96) rotate(-90) scale(0.84,1)" font-size="14.0" fill="#332b2b" stroke="#fff" stroke-width="0.12">5</text>
<text transform="translate(244.0,219.97) rotate(-90) scale(0.84,1)" font-size="14.0" fill="#332b2b" stroke="#fff" stroke-width="0.12">0</text>
<text transform="translate(244.0,314.67) rotate(-90) scale(0.84,1)" font-size="14.0" fill="#332b2b" stroke="#fff" stroke-width="0.12">2</text>
<text transform="translate(244.0,304.26) rotate(-90) scale(0.84,1)" font-size="14.0" fill="#332b2b" stroke="#fff" stroke-width="0.12">5</text>
<text transform="translate(244.0,349.21) rotate(-90) scale(0.7,1)" font-size="14.0" fill="#332b2b" stroke="#fff" stroke-width="0.12">(</text>
<text transform="translate(244.0,343.74) rotate(-90) scale(0.84,1)" font-size="14.0" fill="#332b2b" stroke="#fff" stroke-width="0.12">3</text>
<text transform="translate(244.0,332.38) rotate(-90) scale(0.84,1)" font-size="14.0" fill="#332b2b" stroke="#fff" stroke-width="0.12">7</text>
<text transform="translate(244.0,321.16) rotate(-90) scale(0.7,1)" font-size="14.0" fill="#332b2b" stroke="#fff" stroke-width="0.12">)</text>
<text transform="translate(573.97,103.3) scale(0.74,1)" font-size="13.3" fill="#332b2b" stroke="#fff" stroke-width="0.12">P</text>
<text transform="translate(579.15,103.3) scale(1.0,1)" font-size="13.3" fill="#332b2b" stroke="#fff" stroke-width="0.12">.</text>
<text transform="translate(583.49,103.3) scale(0.76,1)" font-size="13.3" fill="#332b2b" stroke="#fff" stroke-width="0.12">C</text>
<text transform="translate(591.15,103.3) scale(1.0,1)" font-size="13.3" fill="#332b2b" stroke="#fff" stroke-width="0.12">.</text>
<text transform="translate(596.78,103.3) scale(0.72,1)" font-size="13.3" fill="#332b2b" stroke="#fff" stroke-width="0.12">D</text>
<text transform="translate(602.85,103.3) scale(1.0,1)" font-size="13.3" fill="#332b2b" stroke="#fff" stroke-width="0.12">.</text>
<text transform="translate(608,103.3) scale(0.92,1)" font-size="13.3" fill="#332b2b" stroke="#fff" stroke-width="0.12">2</text>
<text transform="translate(617,103.3) scale(0.92,1)" font-size="13.3" fill="#332b2b" stroke="#fff" stroke-width="0.12">0</text>
<text transform="translate(578.69,115.8) scale(0.7,1)" font-size="13.3" fill="#332b2b" stroke="#fff" stroke-width="0.12">(</text>
<text transform="translate(585.89,115.8) scale(0.92,1)" font-size="13.3" fill="#332b2b" stroke="#fff" stroke-width="0.12">7</text>
<text transform="translate(596.44,115.8) scale(1.7,1)" font-size="13.3" fill="#332b2b" stroke="#fff" stroke-width="0.12">-</text>
<text transform="translate(607.19,115.8) scale(0.64,1)" font-size="13.3" fill="#332b2b" stroke="#fff" stroke-width="0.12">Ø</text>
<text transform="translate(617.94,115.8) scale(0.92,1)" font-size="13.3" fill="#332b2b" stroke="#fff" stroke-width="0.12">4</text>
<text transform="translate(625.65,115.8) scale(1.0,1)" font-size="13.3" fill="#332b2b" stroke="#fff" stroke-width="0.12">.</text>
<text transform="translate(630.81,115.8) scale(0.92,1)" font-size="13.3" fill="#332b2b" stroke="#fff" stroke-width="0.12">5</text>
<text transform="translate(641.41,115.8) scale(0.7,1)" font-size="13.3" fill="#332b2b" stroke="#fff" stroke-width="0.12">)</text>
<line x1="571.3" y1="117.6" x2="651" y2="117.6" stroke="#231815" stroke-width="0.9"/>
<line x1="571.3" y1="117.6" x2="549.4" y2="148.4" stroke="#231815" stroke-width="0.9"/>
<circle cx="541.8" cy="156" r="12.3" fill="none" stroke="#231815" stroke-width="1.9"/>
<circle cx="541.8" cy="156" r="6.3" fill="none" stroke="#231815" stroke-width="0.6"/>
<circle cx="541.8" cy="147.1" r="1.45" fill="none" stroke="#231815" stroke-width="1.0"/>
<circle cx="541.8" cy="147.1" r="0.5" fill="#231815" stroke="#231815" stroke-width="0"/>
<circle cx="548.09" cy="149.71" r="1.45" fill="none" stroke="#231815" stroke-width="1.0"/>
<circle cx="548.09" cy="149.71" r="0.5" fill="#231815" stroke="#231815" stroke-width="0"/>
<circle cx="550.7" cy="156" r="1.45" fill="none" stroke="#231815" stroke-width="1.0"/>
<circle cx="550.7" cy="156" r="0.5" fill="#231815" stroke="#231815" stroke-width="0"/>
<circle cx="548.09" cy="162.29" r="1.45" fill="none" stroke="#231815" stroke-width="1.0"/>
<circle cx="548.09" cy="162.29" r="0.5" fill="#231815" stroke="#231815" stroke-width="0"/>
<circle cx="541.8" cy="164.9" r="1.9" fill="#231815" stroke="#231815" stroke-width="0"/>
<circle cx="535.51" cy="162.29" r="1.45" fill="none" stroke="#231815" stroke-width="1.0"/>
<circle cx="535.51" cy="162.29" r="0.5" fill="#231815" stroke="#231815" stroke-width="0"/>
<circle cx="532.9" cy="156" r="1.45" fill="none" stroke="#231815" stroke-width="1.0"/>
<circle cx="532.9" cy="156" r="0.5" fill="#231815" stroke="#231815" stroke-width="0"/>
<circle cx="535.51" cy="149.71" r="1.45" fill="none" stroke="#231815" stroke-width="1.0"/>
<circle cx="535.51" cy="149.71" r="0.5" fill="#231815" stroke="#231815" stroke-width="0"/>
<line x1="526" y1="156" x2="557.6" y2="156" stroke="#231815" stroke-width="0.6"/>
<line x1="541.8" y1="140.2" x2="541.8" y2="171" stroke="#231815" stroke-width="0.6"/>
<line x1="540.6" y1="156" x2="543" y2="156" stroke="#231815" stroke-width="0.8"/>
<line x1="538.8" y1="167.5" x2="538.8" y2="171" stroke="#231815" stroke-width="0.8"/>
<line x1="545" y1="167.5" x2="545" y2="171" stroke="#231815" stroke-width="0.8"/>
<rect x="536.8" y="170.9" width="10" height="4.5" rx="1.6" fill="none" stroke="#231815" stroke-width="1.0"/>
<line x1="539.42" y1="171.3" x2="539.42" y2="175" stroke="#231815" stroke-width="0.6"/>
<line x1="541.8" y1="171.3" x2="541.8" y2="175" stroke="#231815" stroke-width="0.6"/>
<line x1="544.18" y1="171.3" x2="544.18" y2="175" stroke="#231815" stroke-width="0.6"/>
<circle cx="541.8" cy="179.8" r="3" fill="none" stroke="#231815" stroke-width="1.0"/>
<circle cx="541.8" cy="179.8" r="1.5" fill="none" stroke="#231815" stroke-width="0.7"/>
<line x1="535.6" y1="179.8" x2="548" y2="179.8" stroke="#231815" stroke-width="0.6"/>
<line x1="541.8" y1="175.46" x2="541.8" y2="185.38" stroke="#231815" stroke-width="0.6"/>
<text transform="translate(526.61,203.4) scale(0.64,1)" font-size="14.0" fill="#332b2b" stroke="#fff" stroke-width="0.12">Ø</text>
<text transform="translate(537.73,203.4) scale(0.84,1)" font-size="14.0" fill="#332b2b" stroke="#fff" stroke-width="0.12">2</text>
<text transform="translate(548.53,203.4) scale(0.84,1)" font-size="14.0" fill="#332b2b" stroke="#fff" stroke-width="0.12">8</text>
<line x1="529.2" y1="204.6" x2="554.6" y2="204.6" stroke="#231815" stroke-width="0.8"/>
<polygon points="529.2,204.6 532.2,203.6 532.2,205.6" fill="#231815"/>
<polygon points="554.6,204.6 551.6,203.6 551.6,205.6" fill="#231815"/>
<line x1="529.2" y1="203" x2="529.2" y2="229.5" stroke="#231815" stroke-width="0.8"/>
<line x1="554.6" y1="203" x2="554.6" y2="229.5" stroke="#231815" stroke-width="0.8"/>
<text transform="translate(557.51,214.7) scale(0.64,1)" font-size="14.0" fill="#332b2b" stroke="#fff" stroke-width="0.12">Ø</text>
<path transform="translate(571.5,214.7)" d="M0,0 V-9.66 L-2.1,-7.76" fill="none" stroke="#332b2b" stroke-width="0.95"/>
<text transform="translate(579.07,214.7) scale(0.84,1)" font-size="14.0" fill="#332b2b" stroke="#fff" stroke-width="0.12">4</text>
<line x1="532.2" y1="216.2" x2="588.3" y2="216.2" stroke="#231815" stroke-width="0.8"/>
<polygon points="535.7,216.2 532.7,215.2 532.7,217.2" fill="#231815"/>
<polygon points="548.3,216.2 551.3,215.2 551.3,217.2" fill="#231815"/>
<line x1="535.7" y1="215" x2="535.7" y2="226.4" stroke="#231815" stroke-width="0.6"/>
<line x1="548.3" y1="215" x2="548.3" y2="226.4" stroke="#231815" stroke-width="0.6"/>
<rect x="535.5" y="226.2" width="12.9" height="3.3" rx="1.2" fill="none" stroke="#231815" stroke-width="0.9"/>
<line x1="535.8" y1="227.9" x2="548.2" y2="227.9" stroke="#231815" stroke-width="0.5"/>
<rect x="528.8" y="229.5" width="26.2" height="6.8" rx="1" fill="none" stroke="#231815" stroke-width="1.1"/>
<line x1="535.8" y1="229.5" x2="535.8" y2="236.3" stroke="#231815" stroke-width="0.5"/>
<line x1="547.9" y1="229.5" x2="547.9" y2="236.3" stroke="#231815" stroke-width="0.5"/>
<line x1="535.8" y1="236.3" x2="535.8" y2="263.4" stroke="#231815" stroke-width="1.0"/>
<line x1="547.8" y1="236.3" x2="547.8" y2="263.4" stroke="#231815" stroke-width="1.0"/>
<line x1="541.8" y1="229.5" x2="541.8" y2="300" stroke="#231815" stroke-width="0.6" stroke-dasharray="5,1.5,1.5,1.5"/>
<rect x="532.5" y="263.4" width="6.7" height="3.2" rx="0.8" fill="none" stroke="#231815" stroke-width="0.9"/>
<rect x="544.8" y="263.4" width="6.7" height="3.2" rx="0.8" fill="none" stroke="#231815" stroke-width="0.9"/>
<rect x="527.6" y="266.6" width="28.9" height="6.7" rx="1" fill="none" stroke="#231815" stroke-width="1.1"/>
<path d="M528.8,273.3 V277.5 H530.5 V290.5 H528.8 V293.8 Q528.8,295.6 530.6,295.6 H554 Q555.8,295.6 555.8,293.8 V290.5 H554.2 V277.5 H555.8 V273.3" fill="none" stroke="#231815" stroke-width="1.0"/>
<path d="M538,273.3 V271.8 H546 V273.3" fill="none" stroke="#231815" stroke-width="0.8"/>
<rect x="537" y="273.3" width="10" height="5.3" rx="0" fill="none" stroke="#231815" stroke-width="0.8"/>
<rect x="536.8" y="278.6" width="10.8" height="11.8" rx="0" fill="none" stroke="#231815" stroke-width="0.8"/>
<circle cx="541.8" cy="284.3" r="4.6" fill="none" stroke="#231815" stroke-width="2.0"/>
<circle cx="541.8" cy="284.5" r="1.4" fill="none" stroke="#231815" stroke-width="0.7"/>
<rect x="536.2" y="296.3" width="12.2" height="14" rx="0.8" fill="none" stroke="#231815" stroke-width="0.9"/>
<line x1="537.6" y1="299.3" x2="547" y2="299.3" stroke="#231815" stroke-width="0.5"/>
<line x1="537.6" y1="303.3" x2="547" y2="303.3" stroke="#231815" stroke-width="0.5"/>
<line x1="537.6" y1="307.3" x2="547" y2="307.3" stroke="#231815" stroke-width="0.5"/>
<line x1="538.5" y1="297.5" x2="538.5" y2="309" stroke="#231815" stroke-width="0.5"/>
<line x1="541.8" y1="297.5" x2="541.8" y2="309" stroke="#231815" stroke-width="0.5"/>
<line x1="545.2" y1="297.5" x2="545.2" y2="309" stroke="#231815" stroke-width="0.5"/>
<polygon points="536.4,310.3 547.4,310.3 552.4,313.3 553.2,314.5 530.4,314.5 531.2,313.3" fill="none" stroke="#231815" stroke-width="1.0"/>
<line x1="524.9" y1="335.2" x2="592.5" y2="335.2" stroke="#231815" stroke-width="0.8"/>
<polygon points="528.2,335.2 525.2,334.2 525.2,336.2" fill="#231815"/>
<polygon points="555.6,335.2 558.6,334.2 558.6,336.2" fill="#231815"/>
<line x1="528.2" y1="296" x2="528.2" y2="337" stroke="#231815" stroke-width="0.8"/>
<line x1="555.6" y1="296" x2="555.6" y2="337" stroke="#231815" stroke-width="0.8"/>
<text transform="translate(561.41,333.6) scale(0.64,1)" font-size="14.0" fill="#332b2b" stroke="#fff" stroke-width="0.12">Ø</text>
<text transform="translate(572.66,333.6) scale(0.84,1)" font-size="14.0" fill="#332b2b" stroke="#fff" stroke-width="0.12">3</text>
<text transform="translate(583.73,333.6) scale(0.84,1)" font-size="14.0" fill="#332b2b" stroke="#fff" stroke-width="0.12">0</text>
<line x1="504.3" y1="228.9" x2="504.3" y2="365.6" stroke="#231815" stroke-width="0.8"/>
<polygon points="504.3,228.9 503.3,231.9 505.3,231.9" fill="#231815"/>
<line x1="503.2" y1="228.9" x2="528.8" y2="228.9" stroke="#231815" stroke-width="0.8"/>
<line x1="503.2" y1="273.6" x2="527.6" y2="273.6" stroke="#231815" stroke-width="0.8"/>
<polygon points="504.3,273.6 503.3,270.6 505.3,270.6" fill="#231815"/>
<polygon points="504.3,273.6 503.3,276.6 505.3,276.6" fill="#231815"/>
<line x1="503.2" y1="296.1" x2="528.8" y2="296.1" stroke="#231815" stroke-width="0.8"/>
<polygon points="504.3,296.1 503.3,293.1 505.3,293.1" fill="#231815"/>
<polygon points="504.3,296.1 503.3,299.1 505.3,299.1" fill="#231815"/>
<line x1="503.2" y1="314.5" x2="530.4" y2="314.5" stroke="#231815" stroke-width="0.8"/>
<polygon points="504.3,314.5 503.3,317.5 505.3,317.5" fill="#231815"/>
<text transform="translate(503.3,260.46) rotate(-90) scale(0.84,1)" font-size="14.0" fill="#332b2b" stroke="#fff" stroke-width="0.12">5</text>
<text transform="translate(503.3,251.37) rotate(-90) scale(0.84,1)" font-size="14.0" fill="#332b2b" stroke="#fff" stroke-width="0.12">0</text>
<text transform="translate(503.3,293.77) rotate(-90) scale(0.84,1)" font-size="14.0" fill="#332b2b" stroke="#fff" stroke-width="0.12">2</text>
<text transform="translate(503.3,282.46) rotate(-90) scale(0.84,1)" font-size="14.0" fill="#332b2b" stroke="#fff" stroke-width="0.12">5</text>
<text transform="translate(503.5,357.91) rotate(-90) scale(0.7,1)" font-size="14.0" fill="#332b2b" stroke="#fff" stroke-width="0.12">(</text>
<text transform="translate(503.5,351.77) rotate(-90) scale(0.84,1)" font-size="14.0" fill="#332b2b" stroke="#fff" stroke-width="0.12">2</text>
<text transform="translate(503.5,340.17) rotate(-90) scale(0.84,1)" font-size="14.0" fill="#332b2b" stroke="#fff" stroke-width="0.12">0</text>
<text transform="translate(503.5,332.64) rotate(-90) scale(1.0,1)" font-size="14.0" fill="#332b2b" stroke="#fff" stroke-width="0.12">.</text>
<text transform="translate(503.5,328.98) rotate(-90) scale(0.84,1)" font-size="14.0" fill="#332b2b" stroke="#fff" stroke-width="0.12">7</text>
<text transform="translate(503.5,319.16) rotate(-90) scale(0.7,1)" font-size="14.0" fill="#332b2b" stroke="#fff" stroke-width="0.12">)</text>
<rect x="21.5" y="377.3" width="147.1" height="26.4" rx="13.2" fill="#4c4948"/>
<text x="42.2" y="398.7" font-size="24" fill="#fff" stroke="#fff" stroke-width="0.3" textLength="45.0" lengthAdjust="spacingAndGlyphs">KDP</text>
<g fill="none" stroke="#fff" stroke-width="2.0"><path d="M98.25,381.6 C98.3,386.5 97.4,390.5 93.7,394.9"/><path d="M98.7,388.6 C99.4,390.6 100.6,392.6 102.4,394.4"/><path d="M104.9,380.6 V398.5"/><path d="M101.3,388.2 H104.9"/><path d="M109.3,380.0 V399.9"/><path d="M116,382.4 H129.9"/><path d="M116,387.1 H129.9"/><path d="M116,391.65 H130.2"/><path d="M117,381.4 V392.6"/><path d="M113.7,397.0 H132.2"/></g>
<circle cx="145.5" cy="391" r="8" fill="none" stroke="#fff" stroke-width="1.3"/>
<text x="145.7" y="396.2" font-size="14.6" fill="#fff" text-anchor="middle">1</text>
<rect x="245.85" y="377.3" width="146.95" height="26.4" rx="13.2" fill="#4c4948"/>
<text x="264.4" y="398.7" font-size="24" fill="#fff" stroke="#fff" stroke-width="0.3" textLength="45.0" lengthAdjust="spacingAndGlyphs">KDP</text>
<g fill="none" stroke="#fff" stroke-width="2.0"><path d="M320.45,381.6 C320.5,386.5 319.6,390.5 315.9,394.9"/><path d="M320.9,388.6 C321.6,390.6 322.8,392.6 324.6,394.4"/><path d="M327.1,380.6 V398.5"/><path d="M323.5,388.2 H327.1"/><path d="M331.5,380.0 V399.9"/><path d="M338.2,382.4 H352.1"/><path d="M338.2,387.1 H352.1"/><path d="M338.2,391.65 H352.4"/><path d="M339.2,381.4 V392.6"/><path d="M335.9,397.0 H354.4"/></g>
<circle cx="369.6" cy="391" r="8" fill="none" stroke="#fff" stroke-width="1.3"/>
<text x="369.8" y="396.2" font-size="14.6" fill="#fff" text-anchor="middle">2</text>
<rect x="467.1" y="377.3" width="147" height="26.4" rx="13.2" fill="#4c4948"/>
<text x="484.4" y="398.7" font-size="24" fill="#fff" stroke="#fff" stroke-width="0.3" textLength="45.0" lengthAdjust="spacingAndGlyphs">KDP</text>
<g fill="none" stroke="#fff" stroke-width="2.0"><path d="M540.45,381.6 C540.5,386.5 539.6,390.5 535.9,394.9"/><path d="M540.9,388.6 C541.6,390.6 542.8,392.6 544.6,394.4"/><path d="M547.1,380.6 V398.5"/><path d="M543.5,388.2 H547.1"/><path d="M551.5,380.0 V399.9"/><path d="M558.2,382.4 H572.1"/><path d="M558.2,387.1 H572.1"/><path d="M558.2,391.65 H572.4"/><path d="M559.2,381.4 V392.6"/><path d="M555.9,397.0 H574.4"/></g>
<circle cx="589.5" cy="391" r="8" fill="none" stroke="#fff" stroke-width="1.3"/>
<text x="589.7" y="396.2" font-size="14.6" fill="#fff" text-anchor="middle">3</text>
</svg></body></html>
